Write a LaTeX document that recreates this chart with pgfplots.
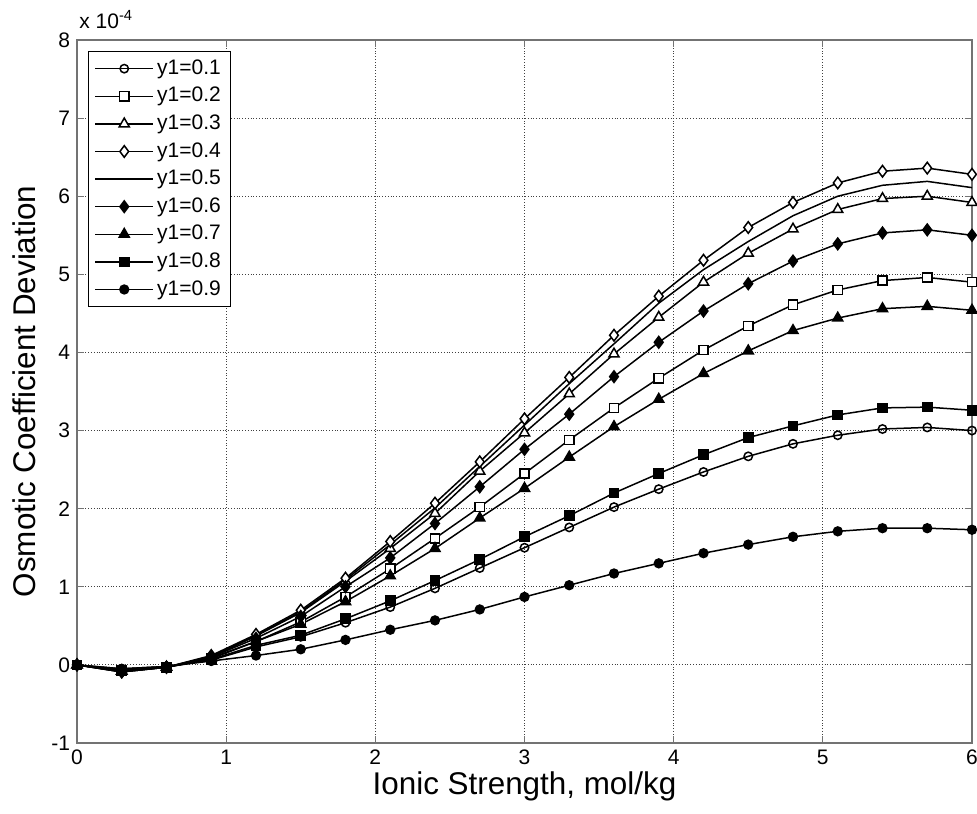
\documentclass[border=0pt]{standalone}
\usepackage{fontspec}
\setmainfont{Liberation Sans}
\usepackage{pgfplots}
\usepackage{pgfplotstable}
\pgfplotsset{compat=1.18}

% osmotic coefficient deviation (x 1e-4) vs ionic strength, one column per y1
\pgfplotstableread{
x    a1     a2     a3     a4     a5     a6     a7     a8     a9
0.0  0.00   0.00   0.00   0.00   0.00   0.00   0.00   0.00   0.00
0.3  -0.05  -0.07  -0.08  -0.09  -0.09  -0.09  -0.08  -0.07  -0.05
0.6  -0.02  -0.03  -0.03  -0.03  -0.03  -0.03  -0.03  -0.03  -0.02
0.9  0.06   0.08   0.10   0.12   0.11   0.10   0.09   0.07   0.05
1.2  0.23   0.30   0.37   0.39   0.38   0.34   0.30   0.25   0.12
1.5  0.36   0.55   0.67   0.70   0.68   0.62   0.52   0.38   0.20
1.8  0.54   0.87   1.07   1.11   1.09   1.00   0.81   0.59   0.32
2.1  0.74   1.23   1.49   1.58   1.54   1.37   1.14   0.82   0.45
2.4  0.98   1.62   1.94   2.07   2.01   1.81   1.49   1.08   0.57
2.7  1.24   2.02   2.48   2.60   2.54   2.28   1.88   1.35   0.71
3.0  1.50   2.45   2.97   3.15   3.07   2.76   2.26   1.64   0.87
3.3  1.76   2.88   3.47   3.68   3.60   3.21   2.66   1.91   1.02
3.6  2.02   3.29   3.98   4.22   4.11   3.69   3.05   2.20   1.17
3.9  2.25   3.67   4.45   4.72   4.63   4.13   3.40   2.45   1.30
4.2  2.47   4.03   4.90   5.18   5.06   4.53   3.73   2.69   1.43
4.5  2.67   4.34   5.27   5.60   5.42   4.88   4.02   2.91   1.54
4.8  2.83   4.61   5.58   5.92   5.75   5.17   4.28   3.06   1.64
5.1  2.94   4.80   5.83   6.17   6.00   5.39   4.44   3.20   1.71
5.4  3.02   4.92   5.97   6.32   6.14   5.53   4.56   3.29   1.75
5.7  3.04   4.96   6.00   6.36   6.19   5.57   4.59   3.30   1.75
6.0  3.00   4.90   5.92   6.28   6.11   5.50   4.54   3.26   1.73
}\dev

\begin{document}
\begin{tikzpicture}
\begin{axis}[
  name=ax,
  scale only axis, width=447.5pt, height=351.5pt,
  xmin=0, xmax=6, ymin=-1, ymax=8,
  xtick={0,1,2,3,4,5,6}, ytick={-1,0,1,2,3,4,5,6,7,8},
  grid=major, grid style={densely dotted, black!75, line width=0.4pt},
  axis line style={black!55, line width=0.6pt},
  tick style={black!55, line width=0.6pt},
  major tick length=3.5pt,
  tick label style={font=\fontsize{10.5}{12.5}\selectfont},
  /pgf/number format/assume math mode=true,
  xlabel={Ionic Strength, mol/kg},
  ylabel={Osmotic Coefficient Deviation},
  label style={font=\fontsize{15.7}{19}\selectfont},
  xlabel style={at={(axis description cs:0.5,-0.0612)}, anchor=center},
  ylabel style={at={(axis description cs:-0.0592,0.5)}, anchor=center},
  every axis plot/.append style={black, line width=0.75pt},
  legend style={at={(axis description cs:0.0123,0.9844)}, anchor=north west,
    draw=black, line width=0.5pt, fill=white,
    font=\fontsize{10.5}{12.5}\selectfont, row sep=0.6pt,
    nodes={text height=7.8pt, text depth=2.2pt, inner sep=1.6pt}},
  legend cell align=left,
  legend image code/.code={\draw[mark repeat=2, mark phase=2]
    plot coordinates {(0pt,0pt) (14.5pt,0pt) (29pt,0pt)};},
]
\addplot[mark=o, mark size=2.1pt, mark options={fill=white}] table[x=x, y=a1] {\dev};
\addlegendentry{y1=0.1}
\addplot[mark=square*, mark size=2.3pt, mark options={fill=white}] table[x=x, y=a2] {\dev};
\addlegendentry{y1=0.2}
\addplot[mark=triangle*, mark size=2.9pt, mark options={fill=white}] table[x=x, y=a3] {\dev};
\addlegendentry{y1=0.3}
\addplot[mark=diamond*, mark size=2.9pt, mark options={fill=white}] table[x=x, y=a4] {\dev};
\addlegendentry{y1=0.4}
\addplot[no marks] table[x=x, y=a5] {\dev};
\addlegendentry{y1=0.5}
\addplot[mark=diamond*, mark size=2.9pt, mark options={fill=black}] table[x=x, y=a6] {\dev};
\addlegendentry{y1=0.6}
\addplot[mark=triangle*, mark size=2.9pt, mark options={fill=black}] table[x=x, y=a7] {\dev};
\addlegendentry{y1=0.7}
\addplot[mark=square*, mark size=2.3pt, mark options={fill=black}] table[x=x, y=a8] {\dev};
\addlegendentry{y1=0.8}
\addplot[mark=*, mark size=2.2pt, mark options={fill=black}] table[x=x, y=a9] {\dev};
\addlegendentry{y1=0.9}
\end{axis}
\node[anchor=base west, inner sep=0pt, font=\fontsize{10.5}{12.5}\selectfont]
  at ([shift={(1pt,6pt)}]ax.north west) {x 10\textsuperscript{-4}};
\pgfresetboundingbox
\path ([shift={(-38.5pt,-35pt)}]ax.south west) rectangle ([shift={(2.5pt,20pt)}]ax.north east);
\end{tikzpicture}
\end{document}
